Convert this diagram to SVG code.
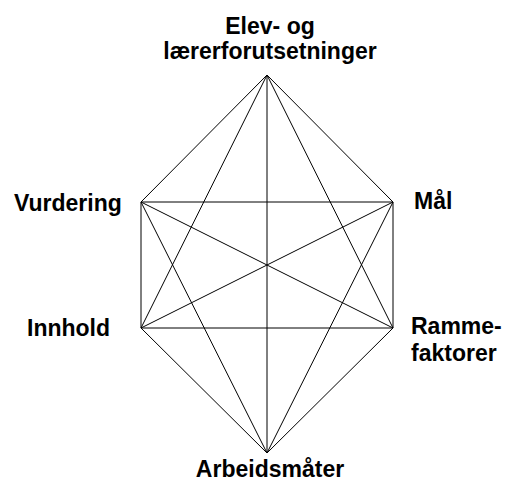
<svg xmlns="http://www.w3.org/2000/svg" width="505" height="482" viewBox="0 0 505 482">
<style>
.e{stroke:#000;stroke-width:1;fill:none}
text{font-family:"Liberation Sans",Arial,sans-serif;font-weight:bold;font-size:23px;fill:#000}
</style>
<rect width="505" height="482" fill="#fff"/>
<g id="connectors" class="e">
<line x1="267" y1="75" x2="141" y2="202"/>
<line x1="267" y1="75" x2="393" y2="202"/>
<line x1="267" y1="75" x2="141" y2="328"/>
<line x1="267" y1="75" x2="393" y2="328"/>
<line x1="267" y1="75" x2="267" y2="453"/>
<line x1="141" y1="202" x2="393" y2="202"/>
<line x1="141" y1="202" x2="141" y2="328"/>
<line x1="141" y1="202" x2="393" y2="328"/>
<line x1="141" y1="202" x2="267" y2="453"/>
<line x1="393" y1="202" x2="141" y2="328"/>
<line x1="393" y1="202" x2="393" y2="328"/>
<line x1="393" y1="202" x2="267" y2="453"/>
<line x1="141" y1="328" x2="393" y2="328"/>
<line x1="141" y1="328" x2="267" y2="453"/>
<line x1="393" y1="328" x2="267" y2="453"/>
</g>
<g id="node-top"><text x="270" y="34" text-anchor="middle">Elev- og</text><text x="270" y="59" text-anchor="middle">lærerforutsetninger</text></g>
<g id="node-vurdering"><text x="14" y="211">Vurdering</text></g>
<g id="node-mal"><text x="414" y="209">Mål</text></g>
<g id="node-innhold"><text x="27" y="336">Innhold</text></g>
<g id="node-rammefaktorer"><text x="411" y="334">Ramme-</text><text x="411" y="361">faktorer</text></g>
<g id="node-arbeidsmater"><text x="270" y="477" text-anchor="middle">Arbeidsmåter</text></g>
</svg>
